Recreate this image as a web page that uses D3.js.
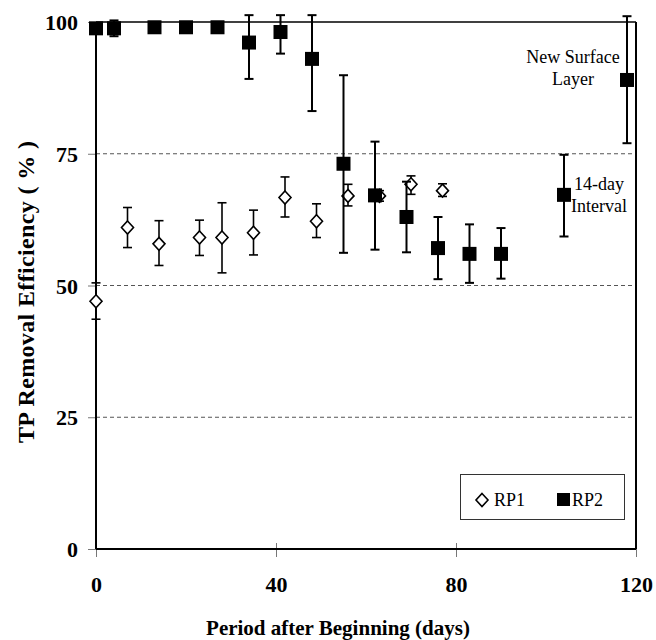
<!DOCTYPE html>
<html>
<head>
<meta charset="utf-8">
<script src="https://cdn.jsdelivr.net/npm/d3@7/dist/d3.min.js"></script>
<style>
  html, body { margin: 0; padding: 0; background: #fff; }
  svg { display: block; font-family: "Liberation Serif", "Times New Roman", serif; }
</style>
</head>
<body>
<div id="chart"></div>
<script>
// RP1 (open diamonds)
const rp1Days = [0, 7, 14, 23, 28, 35, 42, 49, 56, 63, 70, 77];
const rp1Vals = [47, 61, 57.9, 59.1, 59.1, 60, 66.7, 62.2, 67, 67, 69.2, 68];
const rp1Lo   = [43.6, 57.2, 53.8, 55.7, 52.4, 55.8, 63, 59.1, 65.1, 66, 67.3, 66.9];
const rp1Hi   = [50.5, 64.8, 62.3, 62.4, 65.7, 64.3, 70.6, 65.5, 69.2, 68, 70.8, 69.3];

// RP2 (filled squares)
const rp2Days = [0, 4, 13, 20, 27, 34, 41, 48, 55, 62, 69, 76, 83, 90, 104, 118];
const rp2Vals = [98.8, 98.8, 99, 99, 99, 96.1, 98.1, 93, 73.1, 67.1, 63, 57.1, 56, 56, 67.2, 89];
const rp2Lo   = [98.8, 97.3, 99, 99, 99, 89.2, 94, 83.1, 56.2, 56.8, 56.3, 51.2, 50.5, 51.3, 59.3, 77];
const rp2Hi   = [98.8, 100.3, 99, 99, 99, 101.3, 101.3, 101.3, 89.9, 77.3, 69.7, 63, 61.6, 60.9, 74.8, 101.1];

const xTicks = [0, 40, 80, 120];
const yTicks = [0, 25, 50, 75, 100];
const gridVals = [25, 50, 75];

const width = 656, height = 640;
const x = d3.scaleLinear().domain([0, 120]).range([96, 636]);
const y = d3.scaleLinear().domain([0, 100]).range([549, 22]);

const svg = d3.select("#chart").append("svg")
  .attr("width", width)
  .attr("height", height);

// dashed grid
svg.append("g")
  .selectAll("line")
  .data(gridVals)
  .enter()
  .append("line")
  .attr("x1", x(0))
  .attr("x2", x(120))
  .attr("y1", d => y(d))
  .attr("y2", d => y(d))
  .attr("stroke", "#555")
  .attr("stroke-width", 1.2)
  .attr("stroke-dasharray", "4,3");

// axes
const yAxis = svg.append("g")
  .attr("transform", `translate(${x(0)},0)`)
  .call(d3.axisLeft(y).tickValues(yTicks).tickSize(8).tickFormat(d3.format("d")));

const xAxis = svg.append("g")
  .attr("transform", `translate(0,${y(0)})`)
  .call(d3.axisBottom(x).tickValues(xTicks).tickSize(8).tickFormat(d3.format("d")));

[yAxis, xAxis].forEach(a => {
  a.select(".domain").remove();
  a.selectAll(".tick line").attr("stroke", "#777").attr("stroke-width", 1);
  a.selectAll(".tick text")
    .attr("fill", "#000")
    .attr("font-size", 22)
    .attr("font-weight", "bold")
    .attr("font-family", "Liberation Serif, Times New Roman, serif");
});
yAxis.selectAll(".tick text").attr("x", -18).attr("dy", "0.35em");
xAxis.selectAll(".tick text").attr("dy", 0).attr("y", 43);
xAxis.selectAll(".tick line").attr("y1", -6);

// frame
svg.append("line")
  .attr("x1", x(0)).attr("x2", x(120))
  .attr("y1", y(100)).attr("y2", y(100))
  .attr("stroke", "#000").attr("stroke-width", 1.5);
svg.append("line")
  .attr("x1", x(120)).attr("x2", x(120))
  .attr("y1", y(100)).attr("y2", y(0))
  .attr("stroke", "#000").attr("stroke-width", 2);
svg.append("line")
  .attr("x1", x(0)).attr("x2", x(0))
  .attr("y1", y(100)).attr("y2", y(0))
  .attr("stroke", "#000").attr("stroke-width", 2);
svg.append("line")
  .attr("x1", x(0)).attr("x2", x(120))
  .attr("y1", y(0)).attr("y2", y(0))
  .attr("stroke", "#000").attr("stroke-width", 2);

// error bars helper
function drawErrors(days, lo, hi, sw) {
  const data = days.map((d, i) => ({ day: d, lo: lo[i], hi: hi[i] }))
    .filter(d => d.hi > d.lo);
  const g = svg.append("g").attr("stroke", "#000").attr("stroke-width", sw);
  g.selectAll("line.v").data(data).enter().append("line")
    .attr("x1", d => x(d.day)).attr("x2", d => x(d.day))
    .attr("y1", d => y(d.lo)).attr("y2", d => y(d.hi));
  g.selectAll("line.lo").data(data).enter().append("line")
    .attr("x1", d => x(d.day) - 4.5).attr("x2", d => x(d.day) + 4.5)
    .attr("y1", d => y(d.lo)).attr("y2", d => y(d.lo));
  g.selectAll("line.hi").data(data).enter().append("line")
    .attr("x1", d => x(d.day) - 4.5).attr("x2", d => x(d.day) + 4.5)
    .attr("y1", d => y(d.hi)).attr("y2", d => y(d.hi));
}

// RP1
drawErrors(rp1Days, rp1Lo, rp1Hi, 1.6);
const diamond = "M0,-6.5L6,0L0,6.5L-6,0Z";
svg.append("g").selectAll("path")
  .data(rp1Days.map((d, i) => ({ day: d, v: rp1Vals[i] })))
  .enter().append("path")
  .attr("d", diamond)
  .attr("transform", d => `translate(${x(d.day)},${y(d.v)})`)
  .attr("fill", "#fff")
  .attr("stroke", "#000")
  .attr("stroke-width", 1.6);

// RP2
drawErrors(rp2Days, rp2Lo, rp2Hi, 2);
svg.append("g").selectAll("rect")
  .data(rp2Days.map((d, i) => ({ day: d, v: rp2Vals[i] })))
  .enter().append("rect")
  .attr("x", d => x(d.day) - 7)
  .attr("y", d => y(d.v) - 7)
  .attr("width", 14)
  .attr("height", 14)
  .attr("fill", "#000");

// annotations
const ann = svg.append("g").attr("font-size", 18).attr("text-anchor", "middle").attr("fill", "#000");
ann.append("text").attr("x", 573).attr("y", 63).text("New Surface");
ann.append("text").attr("x", 573).attr("y", 85).text("Layer");
ann.append("text").attr("x", 599).attr("y", 190).text("14-day");
ann.append("text").attr("x", 599).attr("y", 212).text("Interval");

// legend
const lg = svg.append("g");
lg.append("rect")
  .attr("x", 460.5).attr("y", 474.5)
  .attr("width", 164).attr("height", 45)
  .attr("fill", "#fff").attr("stroke", "#333").attr("stroke-width", 1);
lg.append("path")
  .attr("d", diamond)
  .attr("transform", "translate(482,500)")
  .attr("fill", "#fff").attr("stroke", "#000").attr("stroke-width", 1.6);
lg.append("text").attr("x", 494).attr("y", 506).attr("font-size", 18).text("RP1");
lg.append("rect").attr("x", 557).attr("y", 493).attr("width", 13).attr("height", 13).attr("fill", "#000");
lg.append("text").attr("x", 572).attr("y", 506).attr("font-size", 18).text("RP2");

// axis titles
svg.append("text")
  .attr("x", 338).attr("y", 635)
  .attr("text-anchor", "middle")
  .attr("font-size", 21).attr("font-weight", "bold")
  .text("Period after Beginning (days)");

svg.append("text")
  .attr("transform", "translate(34,292) rotate(-90)")
  .attr("text-anchor", "middle")
  .attr("font-size", 24).attr("font-weight", "bold")
  .attr("textLength", 302)
  .attr("lengthAdjust", "spacing")
  .text("TP Removal Efficiency ( % )");
</script>
</body>
</html>
